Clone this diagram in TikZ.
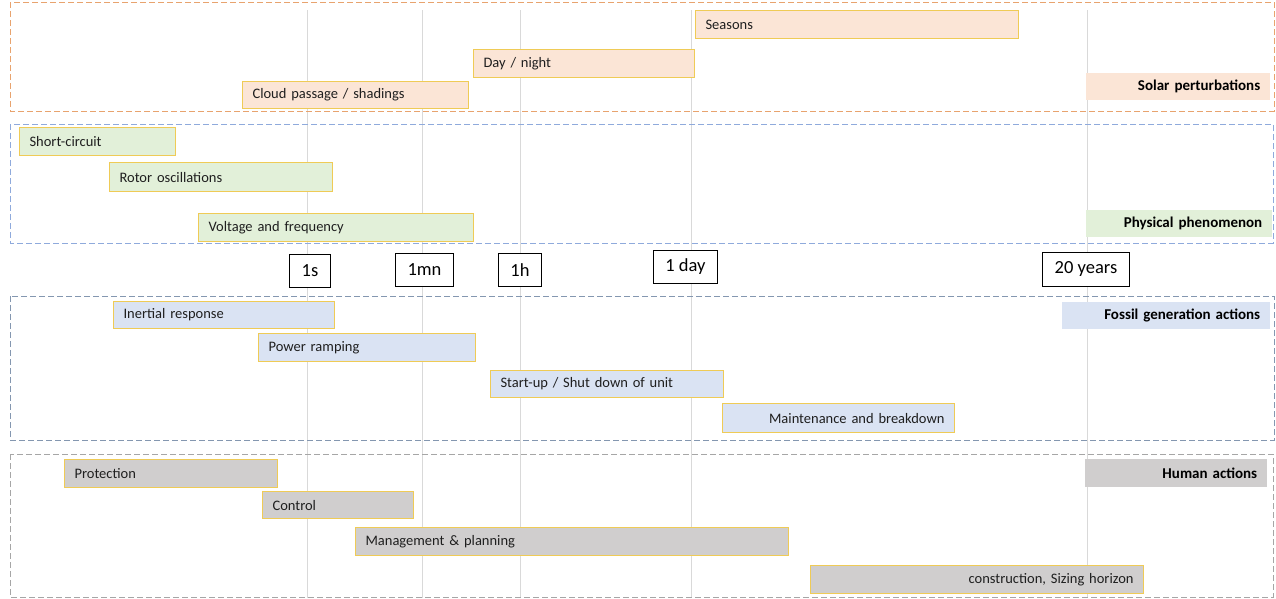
\documentclass[tikz,border=0pt]{standalone}
\usepackage{fontspec}
\setmainfont{Carlito}
\definecolor{solarfill}{HTML}{FBE5D6}
\definecolor{physfill}{HTML}{E2F0D9}
\definecolor{fossfill}{HTML}{DAE3F3}
\definecolor{humfill}{HTML}{D0CECE}
\definecolor{barborder}{HTML}{EFCB56}
\definecolor{solarline}{HTML}{E8A36E}
\definecolor{physline}{HTML}{8FAADC}
\definecolor{fossline}{HTML}{8497B0}
\definecolor{humline}{HTML}{A6A6A6}
\definecolor{gridline}{HTML}{D9D9D9}
\definecolor{txt}{HTML}{1F1F1F}
\tikzset{
  bar/.style={draw=barborder, line width=1.1pt, inner xsep=10pt, inner ysep=0pt,
    anchor=north west, align=left, font=\fontsize{14.5}{16}\selectfont, text=txt},
  barright/.style={bar, align=right},
  grouplbl/.style={inner xsep=10pt, inner ysep=0pt, anchor=north west, align=right,
    font=\fontsize{15}{16}\selectfont\bfseries, text=black},
  timebox/.style={draw=black, line width=0.9pt, fill=white, inner sep=0pt,
    anchor=north west, font=\fontsize{18.5}{20}\selectfont, text=black},
  groupframe/.style={dash pattern=on 6pt off 3pt, line width=1pt},
  gridl/.style={draw=gridline, line width=1pt},
}
\begin{document}
\begin{tikzpicture}[x=1pt,y=-1pt]
\useasboundingbox (0,0) rectangle (1276,598);
% grid lines
\foreach \gx/\nm in {307/ga,422/gb,520/gc,691/gd,1087/ge}{
  \coordinate (\nm t) at (\gx,10);
  \coordinate (\nm b) at (\gx,598);
  \draw[gridl] (\nm t) -- (\nm b);
}
% group frames
\draw[groupframe, draw=solarline] (10,2) rectangle (1274,111);
\draw[groupframe, draw=physline] (10,124) rectangle (1273,243);
\draw[groupframe, draw=fossline] (10,296) rectangle (1274,440);
\draw[groupframe, draw=humline] (10,454) rectangle (1273,597);

% solar
\node[bar, fill=solarfill, text width=206pt, minimum height=27pt] (cloud) at (242,81) {Cloud passage / shadings};
\node[bar, fill=solarfill, text width=201pt, minimum height=28pt] (daynight) at (473,49) {Day / night};
\node[bar, fill=solarfill, text width=303pt, minimum height=28pt] (seasons) at (695,10) {Seasons};
\node[grouplbl, fill=solarfill, text width=164pt, minimum height=27pt] (solarlbl) at (1086,73) {Solar perturbations};

% physical
\node[bar, fill=physfill, text width=136pt, minimum height=28pt] (short) at (19,127) {Short-circuit};
\node[bar, fill=physfill, text width=203pt, minimum height=29pt] (rotor) at (109,162) {Rotor oscillations};
\node[bar, fill=physfill, text width=255pt, minimum height=28pt] (voltage) at (198,213) {Voltage and frequency};
\node[grouplbl, fill=physfill, text width=166pt, minimum height=27pt] (physlbl) at (1086,210) {Physical phenomenon};

% time scale
\node[timebox, minimum width=41pt, minimum height=33pt] (t1s) at (289,254) {1s};
\node[timebox, minimum width=58pt, minimum height=33pt] (t1mn) at (395,253) {1mn};
\node[timebox, minimum width=43pt, minimum height=33pt] (t1h) at (498,253) {1h};
\node[timebox, minimum width=64pt, minimum height=33pt] (t1d) at (653,250) {1 day};
\node[timebox, minimum width=87pt, minimum height=34pt] (t20y) at (1042,252) {20 years};

% fossil
\node[bar, fill=fossfill, text width=201pt, minimum height=27pt] (inertial) at (113,301) {Inertial response};
\node[bar, fill=fossfill, text width=197pt, minimum height=28pt] (power) at (258,333) {Power ramping};
\node[bar, fill=fossfill, text width=213pt, minimum height=27pt] (startup) at (490,370) {Start-up / Shut down of unit};
\node[barright, fill=fossfill, text width=212pt, minimum height=29pt] (maint) at (722,403) {Maintenance and breakdown};
\node[grouplbl, fill=fossfill, text width=188pt, minimum height=27pt] (fosslbl) at (1062,302) {Fossil generation actions};

% human
\node[bar, fill=humfill, text width=193pt, minimum height=28pt] (protect) at (64,459) {Protection};
\node[bar, fill=humfill, text width=131pt, minimum height=27pt] (control) at (262,491) {Control};
\node[bar, fill=humfill, text width=413pt, minimum height=28pt] (mgmt) at (355,527) {Management \& planning};
\node[barright, fill=humfill, text width=313pt, minimum height=28pt] (constr) at (810,565) {construction, Sizing horizon};
\node[grouplbl, fill=humfill, text width=162pt, minimum height=28pt] (humlbl) at (1085,459) {Human actions};
\end{tikzpicture}
\end{document}
